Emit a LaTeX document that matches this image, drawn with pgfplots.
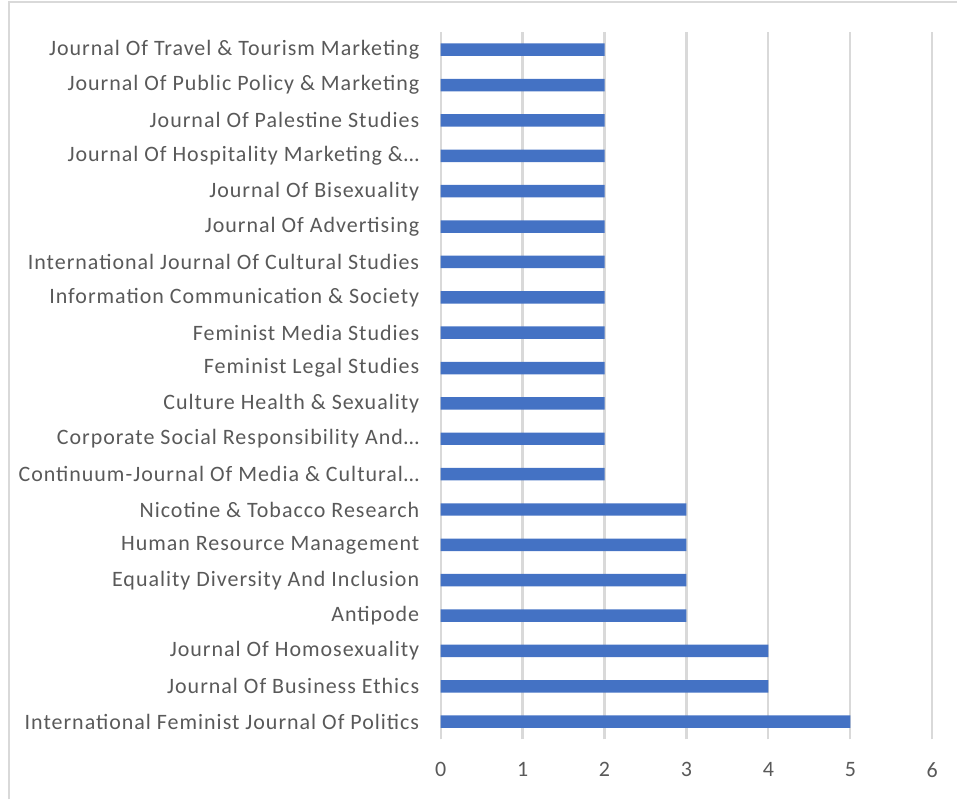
\documentclass[border=0pt]{standalone}
\usepackage{fontspec}
\setmainfont{Carlito}[LetterSpace=4.5]
\usepackage{pgfplots}
\pgfplotsset{compat=1.18}
\definecolor{barblue}{HTML}{4472C4}
\definecolor{txtgray}{HTML}{595959}
\definecolor{gridgray}{HTML}{D9D9D9}
\begin{document}
\begin{tikzpicture}[x=1pt,y=1pt]
% chart area border (left and top edges visible)
\path (0,0) rectangle (958,800);
\draw[gridgray, line width=1.5pt] (9,0) -- (9,798) -- (958,798);
\begin{axis}[
    at={(441pt,60pt)}, anchor=south west,
    scale only axis,
    width=492pt, height=708pt,
    xbar, bar width=12.5pt,
    xmin=0, xmax=6,
    ymin=-0.5, ymax=19.5,
    xtick={0,1,2,3,4,5,6},
    ytick={0,...,19},
    yticklabels={
        International Feminist Journal Of Politics,
        Journal Of Business Ethics,
        Journal Of Homosexuality,
        Antipode,
        Equality Diversity And Inclusion,
        Human Resource Management,
        Nicotine \& Tobacco Research,
        Continuum-Journal Of Media \& Cultural…,
        Corporate Social Responsibility And…,
        Culture Health \& Sexuality,
        Feminist Legal Studies,
        Feminist Media Studies,
        Information Communication \& Society,
        International Journal Of Cultural Studies,
        Journal Of Advertising,
        Journal Of Bisexuality,
        Journal Of Hospitality Marketing \&…,
        Journal Of Palestine Studies,
        Journal Of Public Policy \& Marketing,
        Journal Of Travel \& Tourism Marketing},
    xmajorgrids,
    major grid style={gridgray, line width=2.2pt},
    axis line style={draw=none},
    tick style={draw=none},
    /pgf/number format/assume math mode=true,
    ticklabel style={font=\fontsize{22}{26}\selectfont, text=txtgray, inner sep=0pt},
    yticklabel style={anchor=east, xshift=-17pt},
    xticklabel style={yshift=-23pt},
]
\addplot[fill=barblue, draw=none] coordinates {
    (5,0) (4,1) (4,2) (3,3) (3,4) (3,5) (3,6)
    (2,7) (2,8) (2,9) (2,10) (2,11) (2,12) (2,13)
    (2,14) (2,15) (2,16) (2,17) (2,18) (2,19)
};
\end{axis}
\end{tikzpicture}
\end{document}
